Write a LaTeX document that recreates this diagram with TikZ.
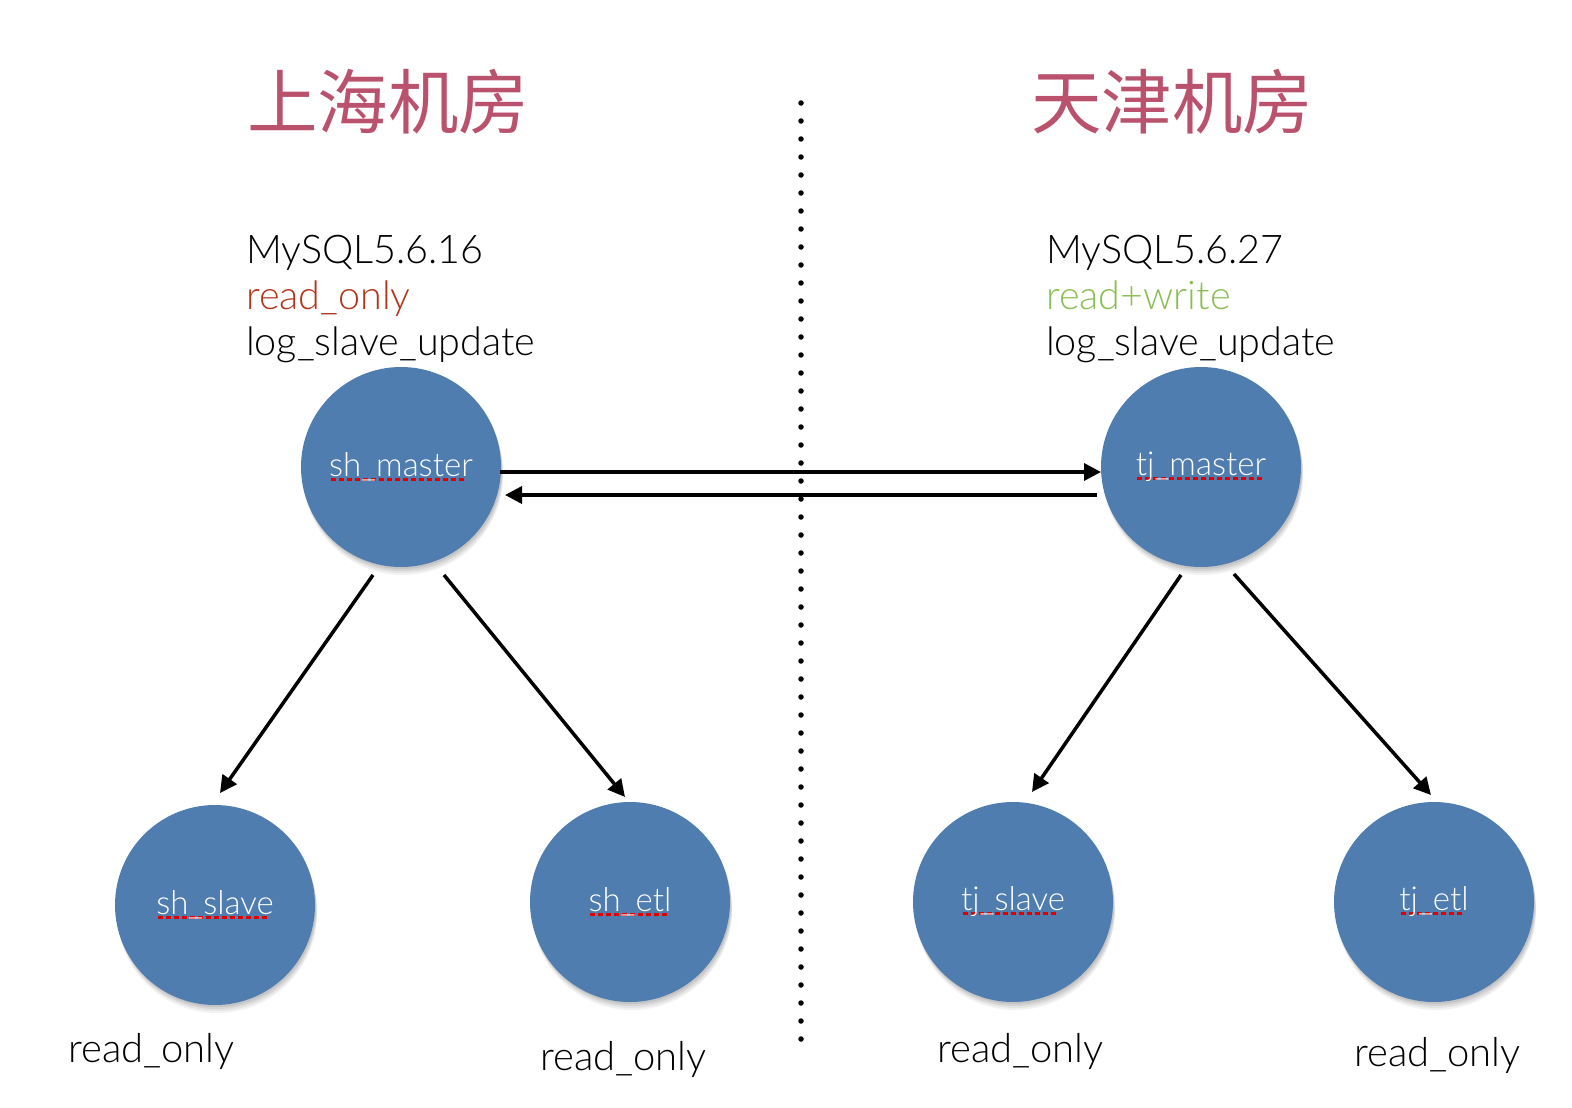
\documentclass[tikz,border=0pt]{standalone}
\usepackage{fontspec}
\setmainfont{Lato Light}
\newfontfamily\cjk{Noto Sans CJK SC}
\usetikzlibrary{arrows.meta,calc}
\definecolor{nodeblue}{HTML}{4F7DAF}
\definecolor{titlerose}{HTML}{BA526D}
\definecolor{rored}{HTML}{B2341A}
\definecolor{rwgreen}{HTML}{89BE52}
\definecolor{spellred}{HTML}{E00000}
\newcommand\spellmark[1]{\setbox0\hbox{#1}\rlap{\raisebox{-4.5pt}{\color{spellred}\leaders\hbox to 8pt{\hss\rule{5pt}{3pt}\hss}\hskip\wd0}}\usebox0}
\tikzset{
  db/.style={circle, fill=nodeblue, minimum size=200pt, inner sep=0pt, outer sep=0pt,
    text=white, font=\fontsize{33}{38}\selectfont,
    preaction={fill=black, opacity=0.07, transform canvas={xshift=1pt, yshift=-2pt}},
    preaction={fill=black, opacity=0.07, transform canvas={xshift=1.5pt, yshift=-4pt}},
    preaction={fill=black, opacity=0.06, transform canvas={xshift=2pt, yshift=-6pt}},
    preaction={fill=black, opacity=0.05, transform canvas={xshift=2pt, yshift=-8pt}}},
  arr/.style={line width=3.5pt, -{Triangle[length=17pt,width=17pt]}},
  title/.style={anchor=west, inner sep=0pt, text=titlerose, font=\cjk\fontsize{70.5}{80}\selectfont},
  info/.style={anchor=base west, inner sep=0pt, font=\fontsize{39.5}{46}\selectfont},
  rolabel/.style={anchor=base west, inner sep=0pt, font=\fontsize{40}{46}\selectfont},
}
\begin{document}
\begin{tikzpicture}[x=1pt, y=-1pt]
\useasboundingbox (0,0) rectangle (1572,1108);
% titles
\node[title] (t1) at (247,102) {上海机房};
\node[title] (t2) at (1031,102) {天津机房};
% divider
\coordinate (dtop) at (801,103);
\coordinate (dbot) at (801,1040);
\draw[line width=5.5pt, line cap=round, dash pattern=on 0pt off 18pt] (dtop) -- (dbot);
% info texts
\node[info] (i1) at (246,263) {MySQL5.6.16};
\node[info, text=rored] (i2) at (246,309) {read\_only};
\node[info] (i3) at (246,355) {log\_slave\_update};
\node[info] (j1) at (1046,263) {MySQL5.6.27};
\node[info, text=rwgreen] (j2) at (1046,309) {read+write};
\node[info] (j3) at (1046,355) {log\_slave\_update};
% database nodes
\node[db] (sm) at (401,467) {\spellmark{sh\_master}};
\node[db] (tm) at (1201,467) {\spellmark{tj\_master}};
\node[db] (ss) at (215,905) {\spellmark{sh\_slave}};
\node[db] (se) at (630,902) {\spellmark{sh\_etl}};
\node[db] (ts) at (1013,902) {\spellmark{tj\_slave}};
\node[db] (te) at (1434,902) {\spellmark{tj\_etl}};
% bottom labels
\node[rolabel] (l1) at (68,1062) {read\_only};
\node[rolabel] (l2) at (540,1070) {read\_only};
\node[rolabel] (l3) at (937,1062) {read\_only};
\node[rolabel] (l4) at (1354,1066) {read\_only};
% connectors
\draw[arr] ($(sm)+(99,5)$) -- ($(tm)+(-100,5)$);
\draw[arr] ($(tm)+(-104,28)$) -- ($(sm)+(104,28)$);
\draw[arr] ($(sm)+(-28,108)$) -- ($(ss)+(5,-112)$);
\draw[arr] ($(sm)+(43,108)$) -- ($(se)+(-5,-105)$);
\draw[arr] ($(tm)+(-20,108)$) -- ($(ts)+(19,-110)$);
\draw[arr] ($(tm)+(33,107)$) -- ($(te)+(-3,-107)$);
\end{tikzpicture}
\end{document}
